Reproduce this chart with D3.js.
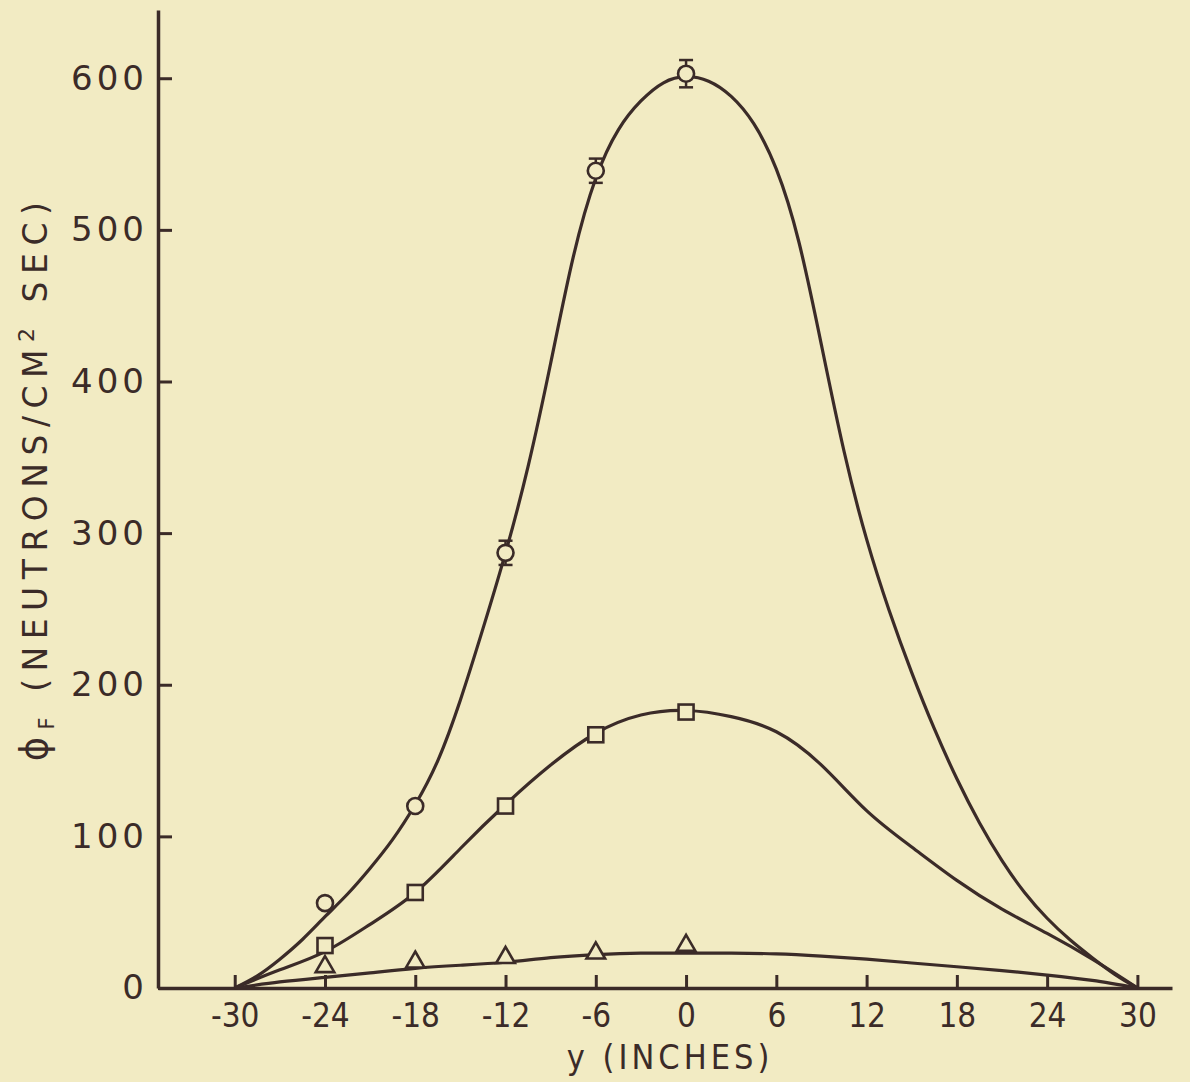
<!DOCTYPE html>
<html>
<head>
<meta charset="utf-8">
<script src="https://cdn.jsdelivr.net/npm/d3@7"></script>
<style>
  body { margin: 0; background: #f2ebc3; }
  svg { display: block; }
  .axis path, .axis line { stroke: #3b2b28; }
  .axis text { fill: #3b2b28; font-family: "DejaVu Sans", sans-serif; }
</style>
</head>
<body>
<script>
// measured points (y in inches, flux in neutrons/cm2 sec)
var pointY = [-24, -18, -12, -6, 0];
var circleFlux = [56, 120, 287, 539, 603];
var circleErr = [0, 0, 8, 8, 9];
var squareFlux = [28, 63, 120, 167, 182];
var triangleFlux = [14, 17, 20, 23, 28];

// hand drawn fitted curves
var circleCurveY = [-30, -28.5, -27, -25.5, -24, -22.5, -21, -19.5, -18, -16.5, -15, -13.5, -12, -10.5, -9, -7.5, -6, -4.5, -3, -1.5,
	0, 1.5, 3, 4.5, 6, 7.5, 9, 10.5, 12, 13.5, 15, 16.5, 18, 19.5, 21, 22.5, 24, 25.5, 27, 28.5, 30];
var circleCurve = [0, 8, 19, 32, 47, 62, 79, 98, 121, 150, 190, 237, 287, 344, 412, 482, 534, 566, 585, 597,
	601, 598, 588, 570, 540, 492, 424, 354, 296, 249, 208, 171, 138, 109, 84, 63, 46, 32, 20, 9, 0];

var squareCurveY = [-30, -27, -24, -21, -18, -15, -12, -9, -6, -3, 0, 3, 6, 9, 12, 15, 18, 21, 24, 27, 30];
var squareCurve = [0, 12, 24, 42, 63, 92, 121, 147, 168, 180, 183, 179, 169, 147, 117, 93, 71, 52, 36, 19, 0];

var triangleCurveY = [-30, -27, -24, -21, -18, -15, -12, -9, -6, -3, 0, 3, 6, 9, 12, 15, 18, 21, 24, 27, 30];
var triangleCurve = [0, 4, 7, 10, 13, 15, 17, 20, 22, 23, 23, 23, 22.5, 21, 19, 16.5, 14, 11.5, 8.5, 5, 0];

// axis ticks
var xTicks = [-30, -24, -18, -12, -6, 0, 6, 12, 18, 24, 30];
var yTicks = [0, 100, 200, 300, 400, 500, 600];

var ink = "#3b2b28", paper = "#f2ebc3";

var svg = d3.select("body").append("svg")
	.attr("width", 1190)
	.attr("height", 1082);

svg.append("rect").attr("width", 1190).attr("height", 1082).attr("fill", paper);

var border = { top: 10, left: 158 };
var width = 1014, height = 978;

var g = svg.append("g")
	.attr("transform", "translate(" + border.left + "," + border.top + ")");

// x axis reaches a bit past -30 and 30, y axis past 600
var x = d3.scaleLinear().domain([-35.1, 32.3]).range([0, width]);
var y = d3.scaleLinear().domain([0, 645]).range([height, 0]);

// x axis, ticks pointing up
var xAxis = g.append("g")
	.attr("class", "axis")
	.attr("transform", "translate(0," + height + ")")
	.call(d3.axisBottom(x).tickValues(xTicks).tickSizeInner(-13).tickSizeOuter(0).tickPadding(16));
xAxis.select(".domain").attr("stroke-width", 3.5);
xAxis.selectAll(".tick line").attr("stroke-width", 3);
xAxis.selectAll(".tick text")
	.attr("font-size", 33)
	.style("font-stretch", "condensed")
	.text(function (d) { return d; });

// y axis, ticks pointing right
var yAxis = g.append("g")
	.attr("class", "axis")
	.call(d3.axisLeft(y).tickValues(yTicks).tickSizeInner(-14).tickSizeOuter(0).tickPadding(10));
yAxis.select(".domain").attr("stroke-width", 3.5);
yAxis.selectAll(".tick line").attr("stroke-width", 3);
yAxis.selectAll(".tick text")
	.attr("font-size", 34)
	.attr("x", -10)
	.style("letter-spacing", "4px");

// axis titles
g.append("text")
	.attr("x", x(0) - 16)
	.attr("y", height + 81)
	.attr("text-anchor", "middle")
	.attr("fill", ink)
	.attr("font-family", "DejaVu Sans, sans-serif")
	.attr("font-size", 34)
	.style("font-stretch", "condensed")
	.style("letter-spacing", "4px")
	.text("y (INCHES)");

var yTitle = svg.append("text")
	.attr("transform", "translate(47,478) rotate(-90)")
	.attr("text-anchor", "middle")
	.attr("fill", ink)
	.attr("font-family", "DejaVu Sans, sans-serif")
	.attr("font-size", 33)
	.style("letter-spacing", "7.5px");
yTitle.append("tspan").attr("font-size", 37).text("\u03D5");
yTitle.append("tspan").attr("font-size", 21).attr("dy", 7).text("F");
yTitle.append("tspan").attr("dy", -7).text(" (NEUTRONS/CM");
yTitle.append("tspan").attr("font-size", 22).attr("dy", -13).text("2");
yTitle.append("tspan").attr("dy", 13).text(" SEC)");

// curves, smooth spline through the read points
var line = d3.line()
	.x(function (d) { return x(d[0]); })
	.y(function (d) { return y(d[1]); })
	.curve(d3.curveNatural);

[[circleCurveY, circleCurve], [squareCurveY, squareCurve], [triangleCurveY, triangleCurve]].forEach(function (c) {
	g.append("path")
		.attr("d", line(c[0].map(function (p, i) { return [p, c[1][i]]; })))
		.attr("fill", "none")
		.attr("stroke", ink)
		.attr("stroke-width", 3.2);
});

// error bars on the circles
var errData = pointY.map(function (p, i) { return { y: p, v: circleFlux[i], e: circleErr[i] }; })
	.filter(function (d) { return d.e > 0; });
var bars = g.selectAll(".err").data(errData).enter().append("g").attr("class", "err")
	.attr("stroke", ink).attr("stroke-width", 2.5);
bars.append("line")
	.attr("x1", function (d) { return x(d.y); }).attr("x2", function (d) { return x(d.y); })
	.attr("y1", function (d) { return y(d.v - d.e); }).attr("y2", function (d) { return y(d.v + d.e); });
bars.append("line")
	.attr("x1", function (d) { return x(d.y) - 7; }).attr("x2", function (d) { return x(d.y) + 7; })
	.attr("y1", function (d) { return y(d.v + d.e); }).attr("y2", function (d) { return y(d.v + d.e); });
bars.append("line")
	.attr("x1", function (d) { return x(d.y) - 7; }).attr("x2", function (d) { return x(d.y) + 7; })
	.attr("y1", function (d) { return y(d.v - d.e); }).attr("y2", function (d) { return y(d.v - d.e); });

// markers, hollow
g.selectAll(".circ").data(circleFlux).enter().append("circle")
	.attr("cx", function (d, i) { return x(pointY[i]); })
	.attr("cy", function (d) { return y(d); })
	.attr("r", 8)
	.attr("fill", paper).attr("stroke", ink).attr("stroke-width", 2.6);

g.selectAll(".sq").data(squareFlux).enter().append("rect")
	.attr("x", function (d, i) { return x(pointY[i]) - 7.5; })
	.attr("y", function (d) { return y(d) - 7.5; })
	.attr("width", 15).attr("height", 15)
	.attr("fill", paper).attr("stroke", ink).attr("stroke-width", 2.6);

g.selectAll(".tri").data(triangleFlux).enter().append("path")
	.attr("d", d3.symbol().type(d3.symbolTriangle).size(150))
	.attr("transform", function (d, i) { return "translate(" + x(pointY[i]) + "," + y(d) + ")"; })
	.attr("fill", paper).attr("stroke", ink).attr("stroke-width", 2.6);
</script>
</body>
</html>
